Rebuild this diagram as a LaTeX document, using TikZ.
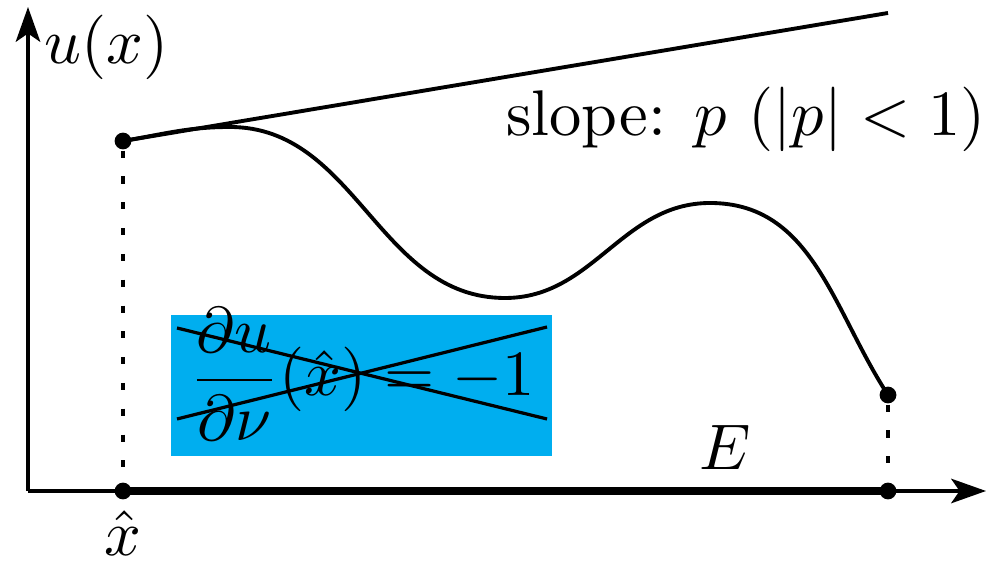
\documentclass[tikz,border=0pt]{standalone}
\usetikzlibrary{arrows.meta}
\definecolor{boxcyan}{RGB}{0,174,239}
\begin{document}
\begin{tikzpicture}[x=0.155pt,y=0.155pt,
  axis/.style={line width=0.55pt,-{Stealth[length=5.4pt,width=3.8pt,inset=1.3pt]}},
  dot/.style={circle,fill=black,inner sep=0pt,minimum size=2.6pt},
  dotline/.style={line width=0.5pt,dash pattern=on 1.1pt off 2.9pt},
  curve/.style={line width=0.6pt},
  lbl/.style={inner sep=0pt}]
\useasboundingbox (0,0) rectangle (998,-566);
% box
\node[fill=boxcyan,minimum width=381*0.155pt,minimum height=141*0.155pt,inner sep=0pt] (box) at (361.5,-385.5) {};
\node[lbl,anchor=base] (formula) at (362,-396) {$\displaystyle\frac{\partial u}{\partial \nu}(\hat{x}) = -1$};
\coordinate (c1) at (177,-328);
\coordinate (c2) at (547,-419);
\coordinate (c3) at (177,-419);
\coordinate (c4) at (547,-327);
\draw[line width=0.5pt] (c1) -- (c2);
\draw[line width=0.5pt] (c3) -- (c4);
% axes
\coordinate (O) at (28,-491);
\coordinate (xend) at (986,-491);
\coordinate (yend) at (28,-7);
\draw[axis] (O) -- (xend);
\draw[axis] (O) -- (yend);
% points
\node[dot] (A) at (123,-141) {};
\node[dot] (B) at (123,-491) {};
\node[dot] (C) at (888,-395) {};
\node[dot] (D) at (888,-491) {};
\coordinate (T) at (888,-13);
\draw[line width=1.2pt] (B.center) -- (D.center);
\draw[dotline] (A) -- (B);
\draw[dotline] (C) -- (D);
\draw[curve] (A.center) -- (T);
\draw[curve] (A.center) to[out=9.5,in=180] (230,-127) to[out=0,in=180] (505,-298) to[out=0,in=180] (710,-203) to[out=0,in=123] (C.center);
% labels
\node[lbl,anchor=base west] (ux) at (43,-64) {$u(x)$};
\node[lbl,anchor=base west] (slope) at (505,-136) {slope: $p$ ($|p|<1$)};
\node[lbl,anchor=base] (E) at (725,-470) {$E$};
\node[lbl,anchor=base] (xhat) at (123,-556) {$\hat{x}$};
\end{tikzpicture}
\end{document}
